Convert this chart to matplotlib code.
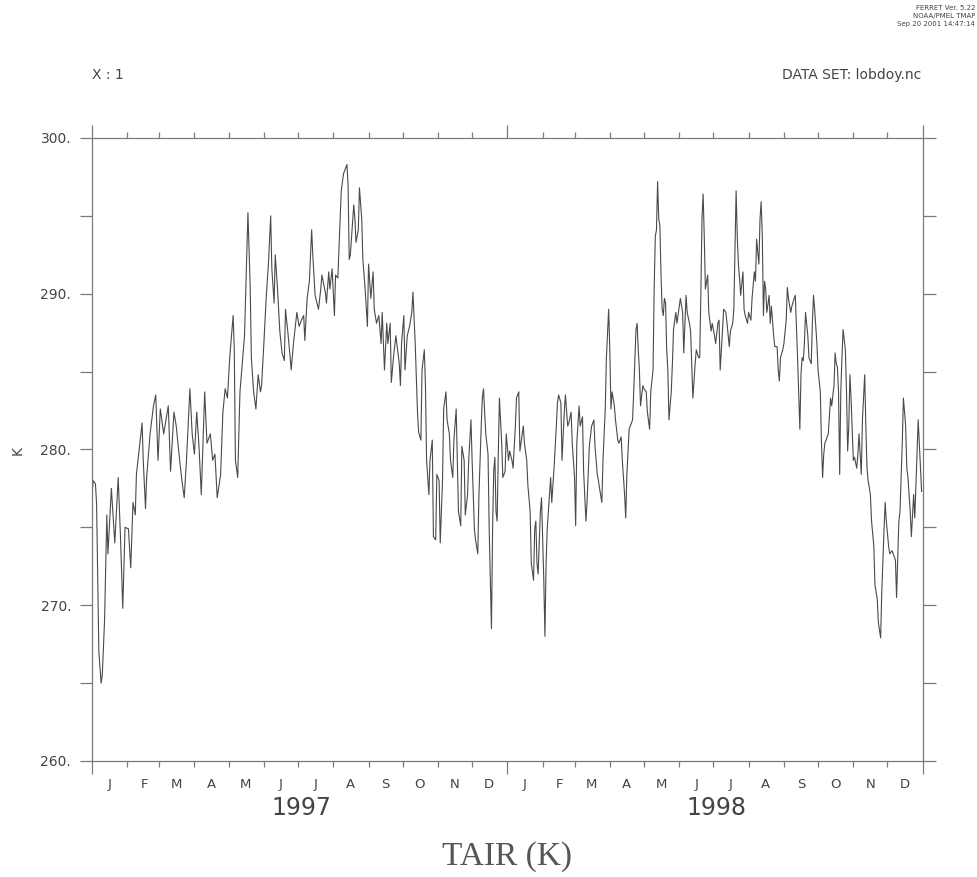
import matplotlib
matplotlib.use('Agg')
import matplotlib.pyplot as plt
import matplotlib.dates as mdates
import matplotlib.transforms as mtransforms
from matplotlib.ticker import MultipleLocator, FuncFormatter, NullFormatter
import numpy as np

# daily air temperature readings (day of year, K)
day_1997 = [0, 1, 3, 4, 6, 8, 9, 11, 13, 14,
            17, 20, 23, 25, 27, 29, 32, 34, 36, 38,
            39, 42, 44, 45, 47, 48, 51, 54, 56, 58,
            60, 63, 65, 67, 69, 72, 74, 77, 79, 81,
            83, 86, 88, 90, 92, 94, 96, 99, 101, 104,
            106, 108, 110, 113, 115, 117, 119, 121, 124, 125,
            126, 128, 130, 132, 134, 136, 137, 139, 140, 142,
            144, 146, 148, 149, 151, 153, 155, 157, 158, 160,
            161, 163, 165, 167, 169, 170, 172, 174, 175, 177,
            180, 182, 184, 186, 187, 189, 191, 193, 194, 196,
            199, 201, 202, 205, 206, 208, 209, 211, 213, 214,
            216, 218, 219, 221, 224, 225, 226, 227, 230, 231,
            232, 234, 235, 237, 238, 240, 242, 243, 245, 247,
            248, 250, 252, 254, 255, 257, 259, 260, 262, 263,
            265, 267, 270, 271, 272, 274, 275, 277, 279, 281,
            282, 284, 286, 287, 289, 290, 292, 293, 294, 296,
            297, 299, 300, 302, 303, 305, 306, 308, 309, 311,
            312, 314, 315, 317, 318, 320, 321, 322, 324, 325,
            327, 328, 330, 331, 333, 334, 336, 337, 339, 340,
            342, 343, 344, 346, 348, 349, 350, 351, 352, 353,
            354, 355, 356, 357, 358, 360, 361, 363, 364]
tair_1997 = [277.0, 278.0, 277.8, 276.5, 267.0, 265.0, 265.5, 269.0, 275.8, 273.3,
             277.5, 274.0, 278.2, 274.4, 269.8, 275.0, 274.9, 272.4, 276.6, 275.8,
             278.4, 280.4, 281.7, 279.3, 276.2, 278.2, 281.0, 282.8, 283.5, 279.3,
             282.6, 281.0, 281.9, 282.8, 278.6, 282.4, 281.5, 279.3, 278.0, 276.9,
             279.3, 283.9, 281.0, 279.7, 282.4, 280.2, 277.1, 283.7, 280.4, 281.0,
             279.3, 279.7, 276.9, 278.4, 282.4, 283.9, 283.3, 285.9, 288.6, 286.4,
             279.3, 278.2, 283.7, 285.5, 287.3, 292.6, 295.2, 290.4, 285.9, 283.7,
             282.6, 284.8, 283.7, 284.1, 286.8, 289.7, 291.9, 295.0, 291.6, 289.4,
             292.5, 290.3, 287.6, 286.2, 285.7, 289.0, 287.6, 286.0, 285.1, 286.8,
             288.8, 287.9, 288.3, 288.6, 287.0, 289.7, 290.8, 294.1, 292.5, 289.9,
             289.0, 290.3, 291.2, 290.1, 289.4, 291.4, 290.3, 291.6, 288.6, 291.2,
             291.0, 294.8, 296.6, 297.7, 298.3, 297.0, 292.2, 292.5, 295.7, 294.8,
             293.3, 294.1, 296.8, 294.8, 292.2, 290.3, 287.9, 291.9, 289.7, 291.4,
             289.0, 288.1, 288.6, 286.8, 288.8, 285.1, 288.1, 286.8, 288.1, 284.3,
             286.0, 287.3, 285.5, 284.1, 286.8, 288.6, 285.1, 287.3, 287.9, 288.8,
             290.1, 286.8, 282.4, 281.1, 280.6, 285.1, 286.4, 284.1, 279.3, 277.1,
             279.3, 280.6, 274.4, 274.2, 278.4, 278.0, 274.0, 278.0, 282.6, 283.7,
             281.9, 281.0, 279.3, 278.2, 280.6, 282.6, 279.3, 276.0, 275.1, 280.2,
             279.3, 275.8, 277.1, 279.3, 281.9, 279.3, 274.9, 274.2, 273.3, 277.1,
             281.5, 283.3, 283.9, 281.0, 279.7, 274.9, 271.6, 268.5, 274.9, 278.6,
             279.5, 276.0, 275.4, 279.7, 283.3, 280.4, 278.2, 278.6, 281.0]

day_1998 = [1, 2, 4, 5, 7, 8, 10, 11, 13, 14,
            15, 17, 18, 20, 21, 23, 24, 25, 26, 27,
            29, 30, 32, 33, 34, 35, 37, 38, 39, 41,
            43, 44, 45, 47, 48, 50, 51, 53, 54, 56,
            57, 59, 60, 61, 63, 64, 66, 67, 69, 70,
            72, 74, 76, 77, 79, 80, 81, 83, 84, 86,
            87, 89, 90, 91, 92, 94, 95, 97, 98, 100,
            101, 103, 104, 105, 107, 108, 110, 111, 113, 114,
            115, 116, 117, 119, 120, 122, 123, 125, 126, 128,
            129, 130, 131, 132, 133, 134, 135, 136, 137, 138,
            139, 140, 141, 142, 144, 145, 146, 148, 149, 151,
            152, 154, 155, 157, 158, 160, 161, 162, 163, 165,
            166, 168, 169, 170, 171, 172, 173, 174, 176, 177,
            179, 180, 182, 183, 185, 186, 187, 189, 190, 192,
            193, 195, 196, 198, 199, 201, 202, 203, 204, 205,
            207, 208, 209, 211, 212, 214, 215, 217, 218, 219,
            221, 222, 223, 224, 225, 226, 227, 228, 230, 231,
            232, 234, 235, 237, 238, 239, 240, 242, 243, 245,
            246, 247, 249, 250, 252, 253, 255, 256, 257, 258,
            259, 260, 261, 262, 264, 265, 267, 268, 269, 270,
            272, 273, 275, 276, 277, 278, 279, 281, 282, 284,
            285, 287, 288, 289, 290, 291, 292, 293, 294, 295,
            297, 298, 299, 300, 301, 302, 304, 305, 307, 308,
            309, 311, 312, 314, 315, 316, 317, 319, 320, 322,
            323, 325, 326, 328, 329, 331, 332, 333, 335, 336,
            338, 339, 341, 342, 344, 345, 347, 348, 350, 351,
            352, 354, 355, 357, 358, 360, 361, 363, 364]
tair_1998 = [279.3, 279.9, 279.3, 278.8, 281.5, 283.3, 283.7, 279.9, 281.0, 281.5,
             280.4, 279.3, 277.7, 276.0, 272.7, 271.6, 274.9, 275.4, 272.7, 272.0,
             276.0, 276.9, 271.6, 268.0, 272.7, 274.9, 277.1, 278.2, 276.6, 278.8,
             281.5, 283.0, 283.5, 283.0, 279.3, 282.4, 283.5, 281.5, 281.7, 282.4,
             280.4, 278.2, 275.1, 280.4, 282.8, 281.5, 282.1, 278.6, 275.4, 276.6,
             280.2, 281.5, 281.9, 280.2, 278.4, 278.0, 277.5, 276.6, 279.3, 282.6,
             285.9, 289.0, 286.4, 282.6, 283.7, 282.8, 281.9, 280.6, 280.4, 280.8,
             279.3, 277.1, 275.6, 278.4, 281.3, 281.5, 281.9, 283.7, 287.7, 288.1,
             286.4, 285.1, 282.8, 284.1, 283.9, 283.7, 282.4, 281.3, 283.7, 285.1,
             290.4, 293.7, 294.1, 297.2, 294.8, 294.4, 291.2, 289.0, 288.6, 289.7,
             289.4, 286.4, 285.1, 281.9, 283.7, 285.5, 287.7, 288.8, 288.1, 289.2,
             289.7, 288.8, 286.2, 289.9, 288.8, 288.1, 287.6, 285.5, 283.3, 285.5,
             286.4, 285.9, 285.9, 289.9, 294.8, 296.4, 293.7, 290.3, 291.2, 288.8,
             287.6, 288.1, 287.3, 286.8, 288.1, 288.3, 285.1, 287.6, 289.0, 288.8,
             288.1, 286.6, 287.6, 288.1, 289.0, 296.6, 293.7, 291.9, 291.0, 289.9,
             291.4, 289.0, 288.6, 288.1, 288.8, 288.3, 289.7, 291.4, 290.8, 293.5,
             291.9, 294.8, 295.9, 293.7, 288.6, 290.8, 290.3, 288.8, 289.9, 288.1,
             289.2, 287.3, 286.6, 286.6, 285.1, 284.4, 285.9, 286.4, 286.8, 288.3,
             290.4, 289.7, 288.8, 289.2, 289.7, 289.9, 285.9, 283.7, 281.3, 284.8,
             285.9, 285.7, 286.8, 288.8, 287.3, 285.9, 285.5, 288.1, 289.9, 289.0,
             286.8, 285.1, 283.7, 280.4, 278.2, 279.7, 280.4, 280.8, 281.0, 283.3,
             282.8, 284.1, 286.2, 285.5, 285.3, 283.7, 278.4, 283.7, 285.9, 287.7,
             286.4, 283.7, 279.9, 281.5, 284.8, 283.3, 279.3, 279.5, 278.8, 279.7,
             281.0, 278.4, 281.9, 284.8, 281.5, 278.8, 278.0, 277.1, 275.4, 273.8,
             271.3, 270.4, 268.9, 267.9, 270.9, 274.9, 276.6, 275.4, 273.8, 273.3,
             273.5, 273.3, 272.9, 270.5, 275.4, 276.0, 280.4, 283.3, 281.5, 278.8,
             278.2, 276.0, 274.4, 277.1, 275.6, 279.9, 281.9, 278.8, 277.3]

months = ['J', 'F', 'M', 'A', 'M', 'J', 'J', 'A', 'S', 'O', 'N', 'D']
years = ['1997', '1998']

assert len(day_1997) == len(tair_1997)
assert len(day_1998) == len(tair_1998)

t = np.concatenate([np.datetime64('1997-01-01') + np.array(day_1997, dtype='timedelta64[D]'),
                    np.datetime64('1998-01-01') + np.array(day_1998, dtype='timedelta64[D]')])
tair = np.array(tair_1997 + tair_1998)

txt = '#444444'
axc = '#7a7a7a'

fig = plt.figure(figsize=(9.78, 8.77), dpi=100)
ax = fig.add_axes([0.0941, 0.1323, 0.8494, 0.7104])

ax.plot(t, tair, color='#4a4a4a', lw=0.8)

ax.set_xlim(np.datetime64('1997-01-01'), np.datetime64('1999-01-01'))
ax.set_ylim(260, 300)

for s in ax.spines.values():
    s.set_color(axc)
    s.set_linewidth(0.9)

# x axis: long ticks at years, short ticks at months
ax.xaxis.set_major_locator(mdates.YearLocator())
ax.xaxis.set_minor_locator(mdates.MonthLocator())
ax.xaxis.set_major_formatter(NullFormatter())
ax.xaxis.set_minor_formatter(NullFormatter())
ax.tick_params(axis='x', which='major', direction='out', length=9.5, width=0.9,
               color=axc, top=True, bottom=True)
ax.tick_params(axis='x', which='minor', direction='out', length=4.5, width=0.9,
               color=axc, top=True, bottom=True)

# y axis
ax.yaxis.set_major_locator(MultipleLocator(10))
ax.yaxis.set_minor_locator(MultipleLocator(5))
ax.yaxis.set_major_formatter(FuncFormatter(lambda v, p: '%d.' % v))
ax.tick_params(axis='y', which='both', direction='out', length=9, width=0.9,
               color=axc, left=True, right=True, labelsize=10, labelcolor=txt, pad=6)

# month letters and years under the axis
trans = mtransforms.blended_transform_factory(ax.transData, ax.transAxes)
for y, yr in enumerate(years):
    for i, m in enumerate(months):
        mid = np.datetime64('%s-%02d-16' % (yr, i + 1))
        ax.text(mdates.date2num(mid), -0.038, m, transform=trans, ha='center', va='center',
                fontsize=9.5, color=txt)
    ax.text(mdates.date2num(np.datetime64('%s-07-04' % yr)), -0.076, yr, transform=trans,
            ha='center', va='center', fontsize=17, color=txt)

fig.text(18 / 978, 1 - 450 / 877, 'K', rotation=90, ha='center', va='center',
         fontsize=10, color=txt)
fig.text(0.518, 1 - 857 / 877, 'TAIR (K)', ha='center', va='center',
         fontsize=24, color='#555555', family='Liberation Serif')

fig.text(92 / 978, 1 - 75 / 877, 'X : 1', ha='left', va='center', fontsize=10, color=txt)
fig.text(921 / 978, 1 - 75 / 877, 'DATA SET: lobdoy.nc', ha='right', va='center',
         fontsize=10, color=txt)

fig.text(975 / 978, 1 - 8 / 877, 'FERRET Ver. 5.22', ha='right', va='center',
         fontsize=5, color=txt)
fig.text(975 / 978, 1 - 16 / 877, 'NOAA/PMEL TMAP', ha='right', va='center',
         fontsize=5, color=txt)
fig.text(975 / 978, 1 - 24 / 877, 'Sep 20 2001 14:47:14', ha='right', va='center',
         fontsize=5, color=txt)

fig.savefig('out.png', dpi=100)
